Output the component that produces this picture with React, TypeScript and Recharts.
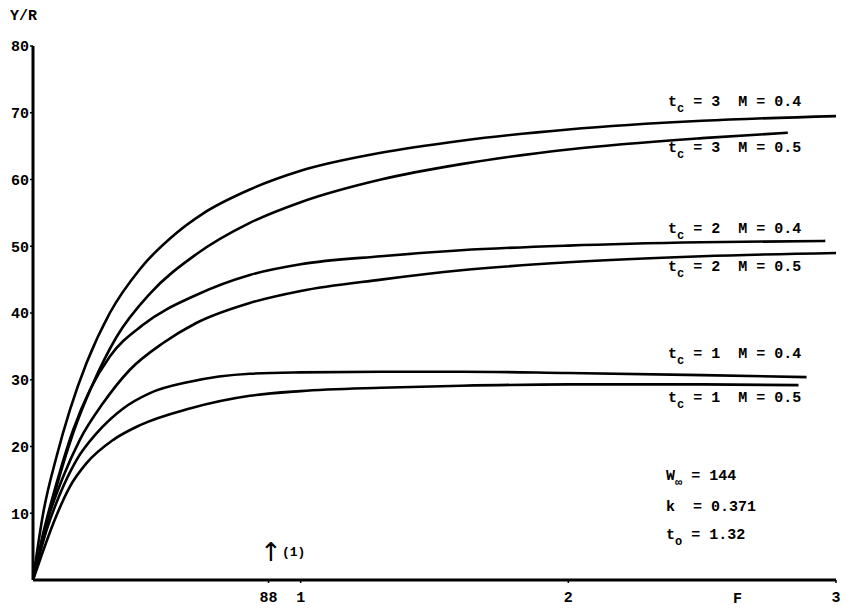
import { LineChart, Line, XAxis, YAxis } from 'recharts';

// fishing mortality F (x) and yield per recruit Y/R (y)
const fTc3M04 = [0, 0.038, 0.088, 0.138, 0.2, 0.287, 0.4, 0.536, 0.635, 0.81, 1.0, 1.3, 1.6, 2.0, 2.5, 3.0];
const yTc3M04 = [0, 10, 18.5, 25.5, 32.5, 40, 46.6, 52.0, 54.9, 58.5, 61.3, 64, 65.8, 67.5, 68.8, 69.5];

const fTc3M05 = [0, 0.038, 0.088, 0.15, 0.225, 0.312, 0.437, 0.61, 0.81, 1.0, 1.3, 1.6, 2.0, 2.5, 2.82];
const yTc3M05 = [0, 6.5, 14, 22, 29.5, 36.4, 42.9, 48.8, 53.5, 56.6, 60, 62.3, 64.5, 66.2, 67];

const fTc2M04 = [0, 0.038, 0.088, 0.15, 0.213, 0.287, 0.41, 0.61, 0.81, 1.0, 1.3, 1.6, 2.0, 2.5, 2.96];
const yTc2M04 = [0, 7, 14.5, 22.5, 28.5, 33.5, 38.2, 42.7, 45.7, 47.3, 48.5, 49.4, 50.1, 50.6, 50.8];

const fTc2M05 = [0, 0.051, 0.113, 0.175, 0.262, 0.362, 0.486, 0.61, 0.81, 1.0, 1.3, 1.6, 2.0, 2.5, 3.0];
const yTc2M05 = [0, 8.5, 15.5, 21, 26.5, 31.5, 35.5, 38.5, 41.5, 43.3, 45, 46.4, 47.6, 48.5, 49];

const fTc1M04 = [0, 0.051, 0.1, 0.163, 0.238, 0.337, 0.437, 0.586, 0.81, 1.0, 1.3, 1.6, 2.0, 2.5, 2.89];
const yTc1M04 = [0, 7.5, 12.8, 18, 22, 25.7, 28, 29.7, 30.9, 31.1, 31.2, 31.2, 31.0, 30.7, 30.4];

const fTc1M05 = [0, 0.026, 0.076, 0.138, 0.2, 0.3, 0.4, 0.586, 0.81, 1.0, 1.3, 1.6, 2.0, 2.5, 2.86];
const yTc1M05 = [0, 3, 8.5, 14, 17.5, 21, 23.2, 25.7, 27.6, 28.3, 28.8, 29.1, 29.3, 29.3, 29.2];

const yTicks = [10, 20, 30, 40, 50, 60, 70, 80];
const xTicks = [0.88, 1, 2, 3];
const xTickLabels: Record<number, string> = { 0.88: '88', 1: '1', 2: '2', 3: '3' };

const series = [
  { key: 'tc3m04', f: fTc3M04, y: yTc3M04 },
  { key: 'tc3m05', f: fTc3M05, y: yTc3M05 },
  { key: 'tc2m04', f: fTc2M04, y: yTc2M04 },
  { key: 'tc2m05', f: fTc2M05, y: yTc2M05 },
  { key: 'tc1m04', f: fTc1M04, y: yTc1M04 },
  { key: 'tc1m05', f: fTc1M05, y: yTc1M05 },
];

const curveLabels = [
  { tc: '3', m: '0.4', y: 98 },
  { tc: '3', m: '0.5', y: 144 },
  { tc: '2', m: '0.4', y: 225 },
  { tc: '2', m: '0.5', y: 263 },
  { tc: '1', m: '0.4', y: 350 },
  { tc: '1', m: '0.5', y: 394 },
];

const FONT = '"Liberation Mono", "DejaVu Sans Mono", monospace';
const NB = '\u00a0';

export default function App() {
  return (
    <div style={{ position: 'relative', width: 842, height: 604 }}>
      <LineChart width={842} height={604} margin={{ top: 38, right: 14, bottom: 0, left: 0 }}>
        <XAxis
          dataKey="f" type="number" domain={[0, 3]} ticks={xTicks} height={32}
          allowDataOverflow
          tickFormatter={(v: number) => xTickLabels[v] ?? ''}
          axisLine={{ stroke: '#000', strokeWidth: 3 }}
          tickLine={{ stroke: '#000', strokeWidth: 1.5 }} tickSize={3} tickMargin={8}
          tick={{ fill: '#000', fontSize: 15, fontWeight: 700, fontFamily: FONT }}
        />
        <YAxis
          dataKey="y" type="number" domain={[0, 80]} ticks={yTicks} width={25}
          axisLine={{ stroke: '#000', strokeWidth: 3 }}
          tickLine={{ stroke: '#000', strokeWidth: 1.5 }} tickSize={3} tickMargin={1}
          tick={{ fill: '#000', fontSize: 15, fontWeight: 700, fontFamily: FONT }}
        />
        {series.map((s) => (
          <Line
            key={s.key}
            data={s.f.map((f, i) => ({ f, y: s.y[i] }))}
            dataKey="y" type="monotone" stroke="#000" strokeWidth={2.6}
            dot={false} isAnimationActive={false}
          />
        ))}
      </LineChart>
      <svg width={842} height={604} style={{ position: 'absolute', left: 0, top: 0, pointerEvents: 'none' }}
        fontFamily={FONT} fontWeight={700} fontSize={15} fill="#000">
        <text x={2} y={12}>Y/R</text>
        <text x={725} y={595}>F</text>
        {curveLabels.map((l, i) => (
          <text key={i} x={660} y={l.y}>
            t<tspan dy={6} fontSize={12}>c</tspan>
            <tspan dy={-6}>{`${NB}=${NB}${l.tc}${NB}${NB}M${NB}=${NB}${l.m}`}</tspan>
          </text>
        ))}
        <text x={658} y={472}>W<tspan dy={6} fontSize={12}>∞</tspan><tspan dy={-6}>{`${NB}=${NB}144`}</tspan></text>
        <text x={658} y={503}>{`k${NB}${NB}=${NB}0.371`}</text>
        <text x={658} y={531}>t<tspan dy={6} fontSize={12}>o</tspan><tspan dy={-6}>{`${NB}=${NB}1.32`}</tspan></text>
        <text x={252} y={553} fontSize={26} fontWeight={400} fontFamily="DejaVu Sans">↑</text>
        <text x={274} y={548} fontSize={13}>(1)</text>
      </svg>
    </div>
  );
}
